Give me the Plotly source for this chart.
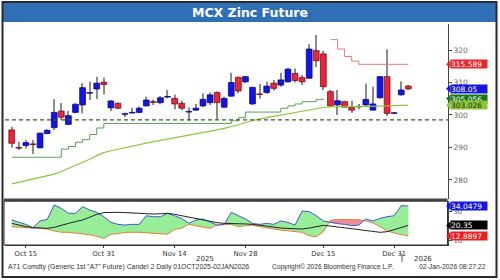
import plotly.graph_objects as go

# ---------------- data ----------------
dates = ["2025-10-13", "2025-10-14", "2025-10-15", "2025-10-16", "2025-10-17", "2025-10-20",
         "2025-10-22", "2025-10-23", "2025-10-24", "2025-10-27", "2025-10-28", "2025-10-29",
         "2025-10-30", "2025-10-31", "2025-11-03", "2025-11-04", "2025-11-05", "2025-11-06",
         "2025-11-07", "2025-11-10", "2025-11-11", "2025-11-12", "2025-11-13", "2025-11-14",
         "2025-11-17", "2025-11-18", "2025-11-19", "2025-11-20", "2025-11-21", "2025-11-24",
         "2025-11-25", "2025-11-26", "2025-11-27", "2025-11-28", "2025-12-01", "2025-12-02",
         "2025-12-03", "2025-12-04", "2025-12-05", "2025-12-08", "2025-12-09", "2025-12-10",
         "2025-12-11", "2025-12-12", "2025-12-15", "2025-12-16", "2025-12-17", "2025-12-18",
         "2025-12-19", "2025-12-22", "2025-12-23", "2025-12-24", "2025-12-29", "2025-12-30",
         "2025-12-31", "2026-01-01", "2026-01-02"]

opens = [295.4, 290.0, 290.6, 291.1, 289.9, 294.3, 296.1, 301.2, 297.1, 300.8,
         303.1, 306.7, 308.0, 310.1, 302.2, 303.6, 300.2, 300.6, 300.8, 302.8,
         304.1, 303.8, 305.5, 305.1, 303.6, 300.9, 301.5, 302.8, 303.8, 306.9,
         302.4, 305.8, 311.6, 310.2, 303.4, 306.5, 306.9, 309.8, 309.2, 310.2,
         312.8, 311.5, 311.3, 319.8, 318.8, 307.2, 303.1, 304.1, 302.4, 302.5,
         303.1, 301.5, 305.3, 311.8, 300.5, 306.2, 308.9]
highs = [296.4, 291.8, 292.3, 292.3, 294.6, 295.6, 304.9, 303.7, 301.2, 303.6,
         309.8, 310.3, 311.8, 311.5, 304.6, 303.9, 300.8, 302.2, 302.6, 305.6,
         304.8, 305.8, 307.7, 306.2, 304.4, 302.4, 303.4, 306.7, 306.9, 307.2,
         305.6, 313.0, 311.8, 312.0, 308.7, 309.5, 310.2, 310.8, 313.0, 314.5,
         314.3, 312.3, 321.8, 324.6, 319.8, 307.7, 307.7, 304.4, 304.4, 303.4,
         309.7, 308.7, 312.0, 320.2, 300.7, 310.3, 309.2]
lows = [289.9, 289.2, 289.7, 288.0, 289.7, 294.1, 295.4, 298.5, 296.9, 300.5,
        300.5, 304.6, 304.9, 306.4, 301.2, 301.8, 299.4, 300.5, 300.5, 302.6,
        303.1, 303.3, 305.1, 301.8, 301.5, 298.2, 301.3, 302.4, 303.1, 298.5,
        302.1, 305.6, 306.7, 309.8, 303.1, 305.1, 306.5, 307.5, 308.7, 310.0,
        310.0, 309.2, 311.3, 314.7, 307.7, 302.6, 300.0, 302.3, 300.7, 301.8,
        302.6, 301.3, 305.1, 299.7, 300.4, 305.9, 307.7]
closes = [291.3, 289.8, 291.5, 290.9, 294.4, 295.3, 300.8, 299.3, 299.8, 303.3,
          308.4, 306.9, 309.8, 309.4, 304.3, 302.1, 300.4, 300.8, 302.1, 304.6,
          303.9, 305.3, 305.7, 303.4, 302.1, 301.1, 302.1, 304.8, 306.2, 303.8,
          305.1, 310.0, 307.4, 311.8, 308.5, 306.3, 308.9, 308.2, 310.8, 314.1,
          310.6, 310.2, 320.3, 316.7, 308.7, 302.8, 304.4, 302.4, 301.5, 302.7,
          304.8, 303.4, 311.8, 300.5, 300.7, 307.7, 308.05]

ma_line = [278.8, 279.3, 279.8, 280.2, 280.7, 281.2, 281.8, 282.6, 283.5, 284.4,
           285.3, 286.4, 287.5, 288.4, 289.0, 289.5, 290.0, 290.5, 291.0, 291.4,
           291.8, 292.2, 292.6, 293.0, 293.3, 293.6, 294.0, 294.5, 295.0, 295.4,
           295.9, 296.4, 297.0, 297.7, 298.3, 298.8, 299.2, 299.6, 300.0, 300.5,
           300.9, 301.3, 301.6, 302.0, 302.3, 302.5, 302.6, 302.6, 302.6, 302.6,
           302.6, 302.6, 302.7, 302.8, 302.9, 303.0, 303.026]

support_step = [287.0, 287.0, 287.0, 287.0, 287.0, 287.0, 287.0, 289.5, 290.3, 291.6,
                292.4, 294.0, 296.0, 297.4, 297.4, 297.4, 297.4, 297.4, 297.4, 297.4,
                297.4, 297.4, 297.4, 297.4, 297.4, 297.4, 297.4, 297.4, 297.4, 297.4,
                297.4, 298.2, 299.2, 300.9, 300.9, 300.9, 300.9, 300.9, 302.1, 302.8,
                303.4, 304.1, 304.1, 304.8, 305.056, None, None, None, None, None,
                None, None, None, None, None, None, None]

resist_step = [None, None, None, None, None, None, None, None, None, None,
               None, None, None, None, None, None, None, None, None, None,
               None, None, None, None, None, None, None, None, None, None,
               None, None, None, None, None, None, None, None, None, None,
               None, None, None, None, None, 323.2, 320.3, 318.0, 316.6, 315.589,
               315.589, 315.589, 315.589, 315.589, 315.589, 315.589, 315.589]

ref_level = 298.5

di_plus = [24.2, 22.5, 21.1, 18.8, 23.5, 24.6, 34.8, 32.4, 28.9, 28.9,
           33.6, 31.2, 29.6, 26.5, 22.5, 21.1, 20.6, 21.1, 21.1, 27.2,
           26.5, 26.5, 28.9, 27.2, 25.3, 21.8, 24.2, 24.9, 22.5, 20.6,
           21.1, 29.6, 27.2, 24.9, 21.8, 21.1, 21.8, 21.1, 23.5, 22.5,
           20.6, 30.5, 30.1, 27.2, 23.5, 22.5, 21.6, 21.1, 20.2, 20.6,
           24.9, 23.5, 25.3, 26.5, 27.2, 34.3, 34.0479]
di_minus = [19.5, 19.0, 18.8, 18.5, 18.3, 17.8, 16.4, 15.5, 15.5, 15.0,
            14.3, 13.8, 12.7, 11.2, 14.1, 14.5, 15.5, 15.7, 15.5, 15.2,
            14.8, 14.3, 14.1, 17.6, 18.3, 21.1, 20.2, 19.2, 18.3, 20.6,
            21.1, 21.1, 19.5, 20.2, 20.6, 19.5, 18.5, 17.8, 17.1, 16.6,
            16.2, 15.5, 13.1, 12.4, 16.0, 23.9, 24.6, 24.6, 24.4, 24.4,
            23.5, 22.1, 19.5, 16.4, 15.0, 14.1, 12.8897]
adx = [21.8, 20.6, 19.5, 18.8, 18.3, 18.3, 19.0, 20.6, 21.8, 23.0,
       24.2, 26.1, 28.2, 29.4, 29.6, 29.6, 29.4, 29.1, 28.9, 28.4,
       28.4, 28.6, 28.9, 28.2, 27.2, 26.3, 25.3, 24.6, 23.5, 22.3,
       21.8, 21.8, 21.6, 21.4, 21.1, 20.6, 19.9, 19.2, 18.5, 18.3,
       17.8, 17.8, 18.5, 19.5, 20.4, 19.9, 19.2, 18.5, 17.8, 17.1,
       16.4, 15.7, 15.5, 15.9, 17.4, 19.0, 20.35]

tick_dates = ["2025-10-15", "2025-10-31", "2025-11-14", "2025-11-28", "2025-12-15", "2025-12-31"]
tick_labels = ["Oct 15", "Oct 31", "Nov 14", "Nov 28", "Dec 15", "Dec 31"]
price_ticks = [280, 290, 300, 310, 320]
dmi_ticks = [10, 20, 30]
year_labels = ["2025", "2026"]

title_text = "MCX Zinc Future"
footer_left = 'A71 Comdty (Generic 1st "A7" Future) Candel 2 Daily 01OCT2025-02JAN2026'
footer_mid = "Copyright\u00a9 2026 Bloomberg Finance L.P."
footer_right = "02-Jan-2026 08:27:22"

# ---------------- geometry helpers ----------------
W, H = 500, 280
def px(x):
    return x / W
def py(y):
    return 1 - y / H

idx = list(range(len(dates)))
X_RANGE = [-0.95, 61.6]
Y_RANGE = [274.15, 328.0]
Y2_RANGE = [6.55, 37.58]
X_DOM = [px(5), px(448)]

UP_FILL, UP_LINE = "#1414e6", "#00006e"
DN_FILL, DN_LINE = "#e8283a", "#6e0008"

fig = go.Figure()

# wicks
fig.add_trace(go.Bar(x=idx, base=lows, y=[h - l for h, l in zip(highs, lows)],
                     width=0.16, marker=dict(color="#8c8c8c", line=dict(width=0)),
                     xaxis="x", yaxis="y", hoverinfo="skip"))
# bodies
body_base = [min(o, c) for o, c in zip(opens, closes)]
body_h = [max(abs(c - o), 0.15) for o, c in zip(opens, closes)]
up = [c >= o for o, c in zip(opens, closes)]
fig.add_trace(go.Bar(x=idx, base=body_base, y=body_h, width=0.82,
                     marker=dict(color=[UP_FILL if u else DN_FILL for u in up],
                                 line=dict(color=[UP_LINE if u else DN_LINE for u in up], width=0.7)),
                     xaxis="x", yaxis="y", hoverinfo="skip"))

# overlay studies
fig.add_trace(go.Scatter(x=idx, y=support_step, mode="lines", line=dict(color="#55a455", width=1, shape="hv"),
                         xaxis="x", yaxis="y", hoverinfo="skip"))
fig.add_trace(go.Scatter(x=idx, y=ma_line, mode="lines", line=dict(color="#8cc83a", width=1.2),
                         xaxis="x", yaxis="y", hoverinfo="skip"))
fig.add_trace(go.Scatter(x=idx, y=resist_step, mode="lines", line=dict(color="#f07a7a", width=1, shape="hv"),
                         xaxis="x", yaxis="y", hoverinfo="skip"))

# ---------------- DMI panel fill ----------------
pts = []
for i in range(len(idx)):
    if i > 0:
        d0 = di_plus[i - 1] - di_minus[i - 1]
        d1 = di_plus[i] - di_minus[i]
        if d0 * d1 < 0:
            t = d0 / (d0 - d1)
            xc = idx[i - 1] + t * (idx[i] - idx[i - 1])
            yc = di_plus[i - 1] + t * (di_plus[i] - di_plus[i - 1])
            pts.append((xc, yc, yc))
    pts.append((idx[i], di_plus[i], di_minus[i]))

def sgn(p):
    d = p[1] - p[2]
    return 1 if d > 1e-9 else (-1 if d < -1e-9 else 0)

runs = []
run = [pts[0]]
sign = sgn(pts[0])
for p in pts[1:]:
    s = sgn(p)
    if s != 0 and sign != 0 and s != sign:
        runs.append((sign, run))
        run = [run[-1], p]
        sign = s
    else:
        run.append(p)
        if sign == 0:
            sign = s
runs.append((sign, run))

gx, gy, rx, ry = [], [], [], []
for s, r in runs:
    xs = [p[0] for p in r] + [p[0] for p in reversed(r)]
    ys = [p[1] for p in r] + [p[2] for p in reversed(r)]
    if s >= 0:
        gx += xs + [None]; gy += ys + [None]
    else:
        rx += xs + [None]; ry += ys + [None]

fig.add_trace(go.Scatter(x=gx, y=gy, mode="none", fill="toself", fillcolor="#98ee98",
                         xaxis="x2", yaxis="y2", hoverinfo="skip"))
fig.add_trace(go.Scatter(x=rx, y=ry, mode="none", fill="toself", fillcolor="#f08c98",
                         xaxis="x2", yaxis="y2", hoverinfo="skip"))
fig.add_trace(go.Scatter(x=idx, y=di_minus, mode="lines", line=dict(color="#e0803a", width=1),
                         xaxis="x2", yaxis="y2", hoverinfo="skip"))
fig.add_trace(go.Scatter(x=idx, y=di_plus, mode="lines", line=dict(color="#3c5ad6", width=1),
                         xaxis="x2", yaxis="y2", hoverinfo="skip"))
fig.add_trace(go.Scatter(x=idx, y=adx, mode="lines", line=dict(color="#222222", width=1),
                         xaxis="x2", yaxis="y2", hoverinfo="skip"))

# ---------------- shapes ----------------
shapes = []
# outer frame
shapes.append(dict(type="rect", xref="paper", yref="paper", x0=px(2.5), x1=px(496.5), y0=py(277), y1=py(2),
                   line=dict(color="#2a2a2a", width=2), fillcolor="rgba(0,0,0,0)", layer="above"))
# title bar
shapes.append(dict(type="rect", xref="paper", yref="paper", x0=px(3), x1=px(496), y0=py(22), y1=py(3),
                   line=dict(width=0), fillcolor="#2f6fb6", layer="below"))
# panel separator
shapes.append(dict(type="rect", xref="paper", yref="paper", x0=px(4), x1=px(447.5), y0=py(201.5), y1=py(198.5),
                   line=dict(width=0), fillcolor="#4a4a4a", layer="above"))
# lower panel frame
shapes.append(dict(type="rect", xref="paper", yref="paper", x0=px(4), x1=px(447.5), y0=py(245), y1=py(201),
                   line=dict(color="#333333", width=1), fillcolor="rgba(0,0,0,0)", layer="above"))
# reference dashed level
shapes.append(dict(type="line", xref="x domain", yref="y", x0=0, x1=1, y0=ref_level, y1=ref_level,
                   line=dict(color="#46552e", width=1.4, dash="4px,3px"), layer="above"))
# year separator
shapes.append(dict(type="line", xref="paper", yref="paper", x0=px(402), x1=px(402), y0=py(262), y1=py(254),
                   line=dict(color="#555555", width=1)))

annotations = []
annotations.append(dict(text="<b>" + title_text + "</b>", xref="paper", yref="paper", x=px(250), y=py(12.5),
                        showarrow=False, font=dict(family="DejaVu Sans", size=12.5, color="white"),
                        xanchor="center", yanchor="middle"))

def value_tag(val, txt, bg, fg, yref, unit_px):
    annotations.append(dict(text=txt, xref="paper", yref=yref, x=px(450), y=val, xanchor="left",
                            yanchor="middle", showarrow=False, bgcolor=bg, borderpad=0, width=36, height=8,
                            align="left", font=dict(family="DejaVu Sans", size=7.5, color=fg)))
    dv = 4.0 / unit_px
    shapes.append(dict(type="path", xref="paper", yref=yref,
                       path=f"M {px(446)},{val} L {px(450.5)},{val + dv} L {px(450.5)},{val - dv} Z",
                       fillcolor=bg, line=dict(width=0), layer="above"))

last_support = [v for v in support_step if v is not None][-1]
value_tag(resist_step[-1], f"{resist_step[-1]:g}", "#e8262e", "white", "y", 3.25)
value_tag(closes[-1], f"{closes[-1]:g}", "#1515e0", "white", "y", 3.25)
value_tag(last_support, f"{last_support:g}", "#15761a", "white", "y", 3.25)
value_tag(ma_line[-1], f"{ma_line[-1]:g}", "#8cc63a", "#1d2d05", "y", 3.25)
value_tag(di_plus[-1], f"{di_plus[-1]:g}", "#1515e6", "white", "y2", 1.418)
value_tag(adx[-1], f"{adx[-1]:g}", "#000000", "white", "y2", 1.418)
value_tag(di_minus[-1], f"{di_minus[-1]:g}", "#ee1c1c", "white", "y2", 1.418)

# year labels
year_pos = [205, 423]
for lab, xp in zip(year_labels, year_pos):
    annotations.append(dict(text=lab, xref="paper", yref="paper", x=px(xp), y=py(258.5), showarrow=False,
                            xanchor="center", yanchor="middle", font=dict(family="DejaVu Sans", size=7, color="#333")))
# footer
annotations.append(dict(text=footer_left, xref="paper", yref="paper", x=px(6), y=py(266.5), showarrow=False,
                        xanchor="left", yanchor="middle", font=dict(family="Liberation Sans", size=6.9, color="#333")))
annotations.append(dict(text=footer_mid, xref="paper", yref="paper", x=px(332), y=py(266.5), showarrow=False,
                        xanchor="center", yanchor="middle", font=dict(family="Liberation Sans", size=6.6, color="#333")))
annotations.append(dict(text=footer_right, xref="paper", yref="paper", x=px(488), y=py(266.5), showarrow=False,
                        xanchor="right", yanchor="middle", font=dict(family="Liberation Sans", size=6.8, color="#333")))

tickvals = [dates.index(d) for d in tick_dates]

fig.update_layout(
    width=W, height=H, margin=dict(l=0, r=0, t=0, b=0),
    paper_bgcolor="white", plot_bgcolor="white",
    showlegend=False, hovermode=False, barmode="overlay",
    shapes=shapes, annotations=annotations,
    xaxis=dict(domain=X_DOM, range=X_RANGE, anchor="y", showticklabels=False, showgrid=False,
               zeroline=False, showline=False, fixedrange=True),
    yaxis=dict(domain=[py(199), py(24)], range=Y_RANGE, anchor="x", side="right", tickvals=price_ticks,
               ticks="outside", ticklen=3, tickcolor="#444", showline=True, linecolor="#444", linewidth=1,
               showgrid=False, zeroline=False, tickfont=dict(family="DejaVu Sans", size=7.5, color="#666")),
    xaxis2=dict(domain=X_DOM, range=X_RANGE, anchor="y2", tickvals=tickvals, ticktext=tick_labels,
                ticks="outside", ticklen=2, tickcolor="#333", showline=True, linecolor="#333",
                showgrid=False, zeroline=False, tickfont=dict(family="DejaVu Sans", size=6.8, color="#333")),
    yaxis2=dict(domain=[py(245), py(201)], range=Y2_RANGE, anchor="x2", side="right", tickvals=dmi_ticks,
                ticks="outside", ticklen=3, tickcolor="#444", showline=True, linecolor="#444", linewidth=1,
                showgrid=False, zeroline=False, tickfont=dict(family="DejaVu Sans", size=7, color="#666")),
)

fig.write_html("out.html")
